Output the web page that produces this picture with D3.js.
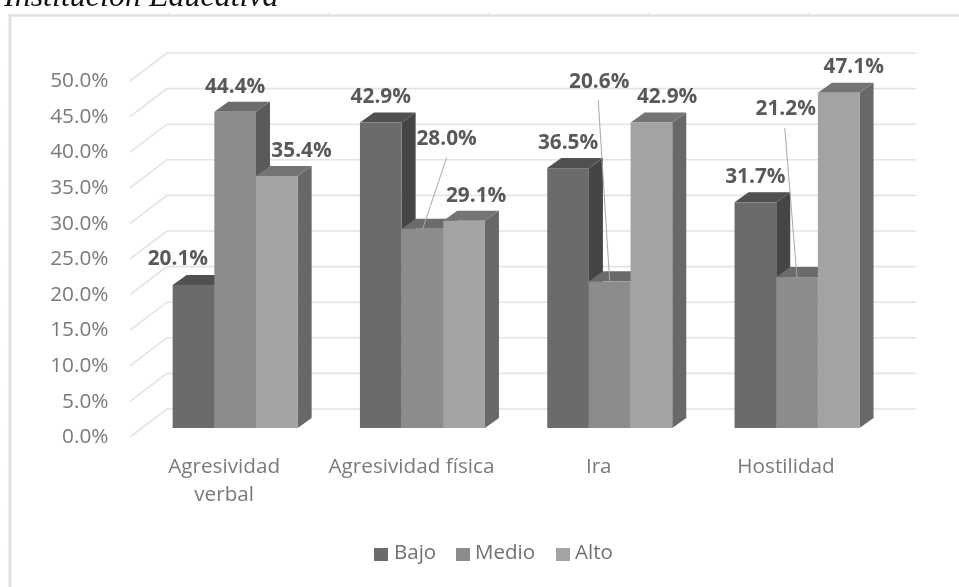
<!DOCTYPE html>
<html><head><meta charset="utf-8">
<script src="https://cdn.jsdelivr.net/npm/d3@7/dist/d3.min.js"></script>
<style>
html,body{margin:0;padding:0;background:#fff;overflow:hidden}
svg{display:block;filter:blur(0.65px)}
text{font-family:"Open Sans",sans-serif}
</style></head><body>
<svg id="c" width="959" height="587"></svg>
<script>
const categories = ["Agresividad verbal","Agresividad física","Ira","Hostilidad"];
const seriesNames = ["Bajo","Medio","Alto"];
const bajo  = [20.1,42.9,36.5,31.7];
const medio = [44.4,28.0,20.6,21.2];
const alto  = [35.4,29.1,42.9,47.1];
const yTicks = [0,5,10,15,20,25,30,35,40,45,50];
const values = [bajo,medio,alto];

// styling & layout, kept apart from the data
const front = ["#6b6b6b","#8c8c8c","#a3a3a3"];
const side  = ["#454545","#5a5a5a","#686868"];
const topC  = ["#505050","#6b6b6b","#747474"];
const labelOffset = [
  [[-15.6,-27],[0,-26.6],[0,-26.4],[0,-26.6]],
  [[0,-26],[24.2,-91],[-10.5,-201],[-11.3,-169]],
  [[24.7,-26],[12,-26],[15.7,-26.6],[15,-27]]
];
const leader = [[1,1],[1,2],[1,3]]; // [series, category] with a leader line

const svg = d3.select("#c");
const y = d3.scaleLinear().domain([0,50]).range([428,72]);
const x0 = d3.scaleBand().domain(categories).range([141.5,890.7]).paddingInner(0.3326).paddingOuter(0.1663);
const x1 = d3.scaleBand().domain(seriesNames).range([0,x0.bandwidth()]);
const depthX = 14, depthY = 10, wallBack = 19;

// title fragment clipped by the top edge
svg.append("text").attr("x",4).attr("y",6).attr("font-size",32).attr("font-style","italic")
   .style("font-family","'Liberation Serif',serif").attr("fill","#111").text("Institución Educativa");

// frame
const frame = svg.append("g").attr("stroke","#e0e0e0").attr("fill","none");
frame.append("line").attr("x1",10).attr("x2",10).attr("y1",14).attr("y2",587).attr("stroke-width",3);
frame.append("line").attr("x1",9).attr("x2",959).attr("y1",15.5).attr("y2",15.5).attr("stroke-width",2.5);
d3.range(169,959,160).forEach(v=>frame.append("line").attr("x1",v).attr("x2",v).attr("y1",12).attr("y2",15).attr("stroke-width",1));
d3.range(32,587,40).forEach(v=>frame.append("line").attr("x1",7).attr("x2",9).attr("y1",v).attr("y2",v).attr("stroke-width",1));

// gridlines
const grid = svg.append("g").attr("stroke","#e4e4e4").attr("stroke-width",1.6).attr("fill","none");
grid.selectAll("path").data(yTicks).join("path")
  .attr("d",d=>{const b=y(d)-wallBack;return `M130,${b+28}L167,${b}L916,${b}`;});

// y axis
const yAxis = svg.append("g").attr("transform","translate(108.5,8)")
  .call(d3.axisLeft(y).tickValues(yTicks).tickSize(0).tickPadding(0).tickFormat(d=>d.toFixed(1)+"%"));
yAxis.select(".domain").remove();
yAxis.selectAll("text").attr("font-size",20.8).attr("fill","#7a7a7a").style("font-family","'Open Sans',sans-serif");

// bars
const base = y(0);
categories.forEach((c,ci)=>{
  const g = svg.append("g").attr("transform",`translate(${x0(c)},0)`);
  seriesNames.forEach((s,si)=>{
    const v = values[si][ci], l = x1(s), r = l+x1.bandwidth(), t = y(v);
    g.append("path").attr("fill",side[si])
      .attr("d",`M${r},${t}L${r+depthX},${t-depthY}L${r+depthX},${base-depthY}L${r},${base}Z`);
    g.append("path").attr("fill",topC[si])
      .attr("d",`M${l},${t}L${l+depthX},${t-depthY}L${r+depthX},${t-depthY}L${r},${t}Z`);
    g.append("rect").attr("x",l).attr("y",t).attr("width",x1.bandwidth()).attr("height",base-t).attr("fill",front[si]);
  });
});

// leader lines + data labels
const cx = (si,ci)=>x0(categories[ci])+x1(seriesNames[si])+x1.bandwidth()/2;
const lines = svg.append("g").attr("stroke","#a8a8a8").attr("stroke-width",1);
leader.forEach(([si,ci])=>{
  const o = labelOffset[si][ci], bx = cx(si,ci), by = y(values[si][ci]);
  lines.append("line").attr("x1",bx+o[0]+(ci===1?0:-1)).attr("y1",by+o[1]+20).attr("x2",bx).attr("y2",by+1);
});
seriesNames.forEach((s,si)=>categories.forEach((c,ci)=>{
  const o = labelOffset[si][ci];
  svg.append("text").attr("x",cx(si,ci)+o[0]).attr("y",y(values[si][ci])+o[1]).attr("dy","0.35em")
    .attr("text-anchor","middle").attr("font-size",20.8).attr("font-weight",700).attr("fill","#595959")
    .text(values[si][ci].toFixed(1)+"%");
}));

// category labels
const labelX = c=>x0(c)+x1.bandwidth()*1.5-11;
const catLines = [["Agresividad","verbal"],["Agresividad física"],["Ira"],["Hostilidad"]];
categories.forEach((c,ci)=>catLines[ci].forEach((t,li)=>{
  svg.append("text").attr("x",labelX(c)).attr("y",466+li*28).attr("dy","0.35em").attr("text-anchor","middle")
    .attr("font-size",20.7).attr("fill","#7a7a7a").text(t);
}));

// legend
const legendX = [374,456,556], legendTextX = [394,475,575];
seriesNames.forEach((s,si)=>{
  svg.append("rect").attr("x",legendX[si]).attr("y",548).attr("width",14).attr("height",13).attr("fill",front[si]);
  svg.append("text").attr("x",legendTextX[si]).attr("y",552).attr("dy","0.35em").attr("font-size",20.5).attr("fill","#707070").text(s);
});
</script>
</body></html>
